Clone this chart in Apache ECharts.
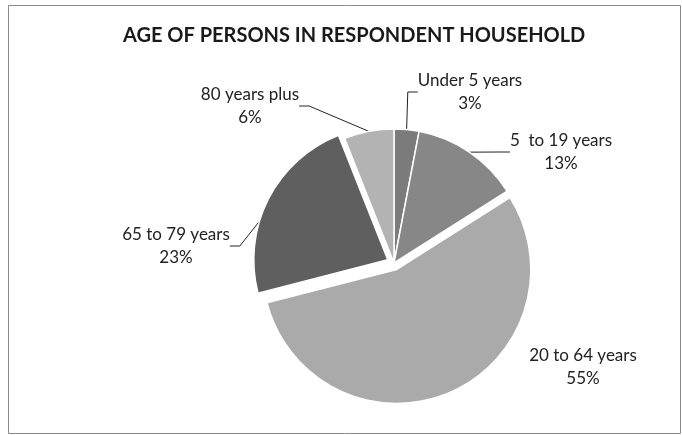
<!DOCTYPE html>
<html>
<head>
<meta charset="utf-8">
<script src="https://cdn.jsdelivr.net/npm/echarts@6/dist/echarts.min.js"></script>
<style>
  html, body { margin: 0; padding: 0; background: #fff; }
  #chart { width: 682px; height: 435px; }
</style>
</head>
<body>
<div id="chart"></div>
<script>
// age groups and their share of persons
const categories = ["Under 5 years", "5  to 19 years", "20 to 64 years", "65 to 79 years", "80 years plus"];
const shares = [3, 13, 55, 23, 6];
const sliceColors = ["#7b7b7b", "#878787", "#aaaaaa", "#5f5f5f", "#b3b3b3"];
const exploded = ["20 to 64 years", "65 to 79 years"];

// where each label sits (centre of the text block)
const labelSpots = [[470, 92], [561, 152], [583, 367], [176, 246], [250, 106]];

const chart = echarts.init(document.getElementById("chart"));

const pieCenter = [394, 263];
const pieRadius = 134;

const option = {
  backgroundColor: "#fff",
  animation: false,
  title: {
    text: "AGE OF PERSONS IN RESPONDENT HOUSEHOLD",
    left: 118,
    top: 21,
    textStyle: {
      fontFamily: "Lato",
      fontSize: 20,
      fontWeight: "bold",
      color: "#1a1a1a"
    }
  },
  graphic: [
    {
      type: "rect",
      shape: { x: 8.5, y: 5.5, width: 672, height: 428 },
      style: { fill: "none", stroke: "#8a8a8a", lineWidth: 1 }
    }
  ],
  series: [
    // the slices (two of them pulled out)
    {
      type: "pie",
      center: pieCenter,
      radius: pieRadius,
      startAngle: 90,
      clockwise: true,
      selectedMode: "multiple",
      selectedOffset: 7,
      silent: true,
      itemStyle: { borderColor: "#fff", borderWidth: 1.5 },
      label: { show: false },
      labelLine: { show: false },
      data: categories.map(function (name, i) {
        return {
          name: name,
          value: shares[i],
          selected: exploded.indexOf(name) >= 0,
          itemStyle: { color: sliceColors[i] }
        };
      })
    },
    // same data, invisible, only carries the labels
    {
      type: "pie",
      center: pieCenter,
      radius: pieRadius,
      startAngle: 90,
      clockwise: true,
      silent: true,
      itemStyle: { color: "transparent", borderWidth: 0 },
      label: {
        show: true,
        formatter: "{b}\n{d}%",
        fontFamily: "Lato",
        fontSize: 17,
        lineHeight: 23,
        color: "#222",
        align: "center"
      },
      labelLine: {
        show: true,
        length: 15,
        length2: 10,
        lineStyle: { color: "#222", width: 1 }
      },
      labelLayout: function (params) {
        const p = labelSpots[params.dataIndex];
        return { x: p[0], y: p[1], align: "center", verticalAlign: "middle" };
      },
      data: categories.map(function (name, i) {
        const item = { name: name, value: shares[i] };
        if (name === "20 to 64 years") item.labelLine = { show: false };
        return item;
      })
    }
  ]
};

chart.setOption(option);
</script>
</body>
</html>
